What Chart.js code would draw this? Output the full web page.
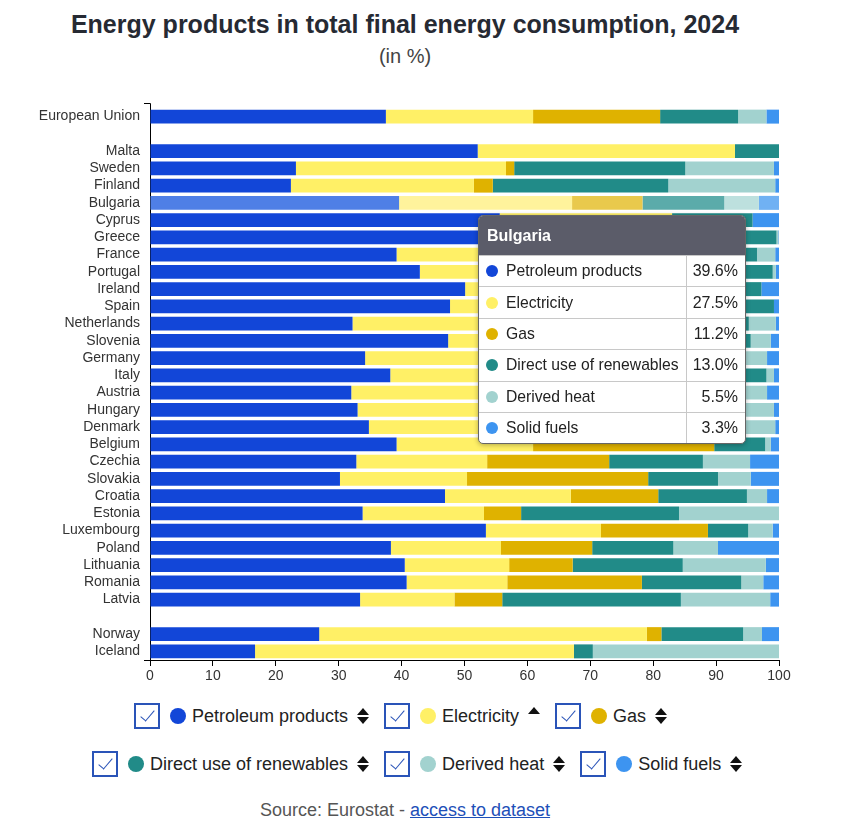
<!DOCTYPE html>
<html>
<head>
<meta charset="utf-8">
<title>Energy products in total final energy consumption, 2024</title>
<script src="https://cdn.jsdelivr.net/npm/chart.js@4.4.1/dist/chart.umd.min.js"></script>
<style>
  body { margin: 0; width: 841px; height: 836px; background: #fff; position: relative; overflow: hidden;
         font-family: Arial, "Liberation Sans", sans-serif; }
  .title { position: absolute; left: 0; top: 10px; width: 810px; text-align: center;
           font-size: 25px; font-weight: bold; color: #262a33; }
  .subtitle { position: absolute; left: 0; top: 45px; width: 810px; text-align: center;
              font-size: 20px; color: #444; }
  #chartBox { position: absolute; left: 0; top: 95px; width: 841px; height: 600px; }

  .legend-row { position: absolute; display: flex; align-items: center; height: 30px; }
  .item { display: flex; align-items: center; margin-right: 15px; font-size: 18px; color: #222; white-space: nowrap; }
  .cb { width: 22px; height: 22px; border: 2px solid #2a54b8; position: relative; margin-right: 10px; background: #fff; }
  .cb::after { content: ""; position: absolute; left: 8px; top: 2px; width: 6px; height: 13px;
               border: solid #2a54b8; border-width: 0 1.5px 1.5px 0; transform: rotate(40deg); }
  .dot { width: 16px; height: 16px; border-radius: 50%; margin-right: 6px; }
  .sort { display: flex; flex-direction: column; align-items: center; margin-left: 8px; width: 13px; height: 16px; }
  .up { width: 0; height: 0; border-left: 6px solid transparent; border-right: 6px solid transparent; border-bottom: 7px solid #111; }
  .down { width: 0; height: 0; border-left: 6px solid transparent; border-right: 6px solid transparent; border-top: 7px solid #111; margin-top: 2px; }
  .sort.asc { justify-content: flex-start; margin-top: -3px; }

  .source { position: absolute; left: 0; top: 800px; width: 810px; text-align: center; font-size: 18px; color: #555; }
  .source a { color: #1d4fb8; }

  #tip { position: absolute; left: 478px; top: 215px; width: 266px; background: #fff; border: 1px solid #666;
         border-radius: 5px; box-shadow: 0 1px 5px rgba(0,0,0,0.3); overflow: hidden; font-size: 16px; color: #222; display: none; }
  #tip .head { background: #5b5c69; color: #fff; font-weight: bold; height: 39px; line-height: 39px; padding-left: 8px; }
  #tip table { border-collapse: collapse; width: 100%; }
  #tip td { height: 30.4px; padding: 0; border-top: 1px solid #c8c8c8; }
  #tip td.lab { padding-left: 7px; font-size: 15.7px; }
  #tip td.val { text-align: right; border-left: 1px solid #c8c8c8; padding-right: 7px; width: 51px; }
  #tip .tdot { display: inline-block; width: 12px; height: 12px; border-radius: 50%; margin-right: 8px; vertical-align: -1px; }
</style>
</head>
<body>
<div class="title">Energy products in total final energy consumption, 2024</div>
<div class="subtitle">(in %)</div>
<div id="chartBox"><canvas id="energyChart"></canvas></div>
<div id="tip"></div>
<div class="legend-row" id="legend1" style="left:134px; top:701px;"></div>
<div class="legend-row" id="legend2" style="left:92px; top:749px;"></div>
<div class="source">Source: Eurostat - <a href="#">access to dataset</a></div>

<script>
// Categories (blank entries are the gaps between groups)
const countries = ['European Union', '', 'Malta', 'Sweden', 'Finland', 'Bulgaria', 'Cyprus', 'Greece', 'France',
  'Portugal', 'Ireland', 'Spain', 'Netherlands', 'Slovenia', 'Germany', 'Italy', 'Austria', 'Hungary', 'Denmark',
  'Belgium', 'Czechia', 'Slovakia', 'Croatia', 'Estonia', 'Luxembourg', 'Poland', 'Lithuania', 'Romania', 'Latvia',
  '', 'Norway', 'Iceland'];

// Shares in %
const petroleum   = [37.5, null, 52.1, 23.2, 22.4, 39.6, 55.6, 52.8, 39.2, 42.9, 50.1, 47.7, 32.2, 47.4, 34.2, 38.2, 32.0, 33.0, 34.8, 39.2, 32.8, 30.2, 46.9, 33.8, 53.4, 38.3, 40.5, 40.8, 33.4, null, 26.9, 16.7];
const electricity = [23.4, null, 40.9, 33.4, 29.1, 27.5, 27.4, 27.0, 26.8, 26.3, 25.8, 25.3, 24.8, 24.4, 24.0, 23.5, 23.0, 22.5, 22.0, 21.7, 20.8, 20.2, 20.0, 19.3, 18.3, 17.5, 16.6, 16.0, 15.0, null, 52.1, 50.7];
const gas         = [20.2, null, 0, 1.3, 3.0, 11.2, 0, 6.0, 19.0, 11.0, 16.8, 18.2, 33.5, 11.0, 24.0, 28.5, 16.0, 30.0, 9.0, 28.8, 19.4, 28.8, 13.9, 5.9, 17.0, 14.5, 10.1, 21.4, 7.6, null, 2.3, 0];
const renewables  = [12.4, null, 7.0, 27.2, 27.9, 13.0, 12.8, 13.8, 11.5, 18.8, 4.5, 8.0, 4.7, 12.7, 9.5, 7.8, 18.0, 8.0, 17.0, 8.1, 14.9, 11.1, 14.1, 25.1, 6.4, 12.9, 17.5, 15.8, 28.4, null, 13.0, 3.0];
const derivedHeat = [4.5, null, 0, 14.1, 17.0, 5.5, 0, 0.3, 2.9, 0.5, 0, 0, 4.3, 3.2, 6.4, 1.2, 9.1, 5.7, 16.6, 0.9, 7.5, 5.2, 3.2, 15.9, 3.9, 7.1, 13.2, 3.5, 14.2, null, 3.0, 29.6];
const solidFuels  = [2.0, null, 0, 0.8, 0.6, 3.3, 4.2, 0.1, 0.6, 0.5, 2.8, 0.8, 0.5, 1.3, 1.9, 0.8, 1.9, 0.8, 0.6, 1.3, 4.6, 4.5, 1.9, 0, 1.0, 9.7, 2.1, 2.5, 1.4, null, 2.7, 0];

const xTicks = [0, 10, 20, 30, 40, 50, 60, 70, 80, 90, 100];

const seriesNames  = ['Petroleum products', 'Electricity', 'Gas', 'Direct use of renewables', 'Derived heat', 'Solid fuels'];
const seriesData   = [petroleum, electricity, gas, renewables, derivedHeat, solidFuels];
const seriesColors = ['#1246d8', '#fff066', '#dfb200', '#218b88', '#a2d2cf', '#3d94f0'];
const lightColors  = ['#4f7fe6', '#fff39c', '#e9c94c', '#5babaa', '#bde0de', '#70b1f3'];
const sortState    = ['both', 'asc', 'both', 'both', 'both', 'both'];

const highlighted = countries.indexOf('Bulgaria');

// y axis domain: short extension above the first band plus outer ticks
const axisEnds = {
  id: 'axisEnds',
  afterDraw(chart) {
    const { ctx, chartArea } = chart;
    const top = chartArea.top - 5;
    ctx.save();
    ctx.strokeStyle = '#000';
    ctx.lineWidth = 1;
    ctx.beginPath();
    ctx.moveTo(chartArea.left - 6, top + 0.5);
    ctx.lineTo(chartArea.left + 0.5, top + 0.5);
    ctx.lineTo(chartArea.left + 0.5, chartArea.top);
    ctx.moveTo(chartArea.left - 6, chartArea.bottom + 0.5);
    ctx.lineTo(chartArea.left, chartArea.bottom + 0.5);
    ctx.stroke();
    ctx.restore();
  }
};

function renderTip(context) {
  const tip = context.tooltip;
  const el = document.getElementById('tip');
  if (!tip.dataPoints || !tip.dataPoints.length) {
    el.style.display = 'none';
    return;
  }
  let html = '<div class="head">' + tip.title[0] + '</div><table>';
  tip.dataPoints.forEach(dp => {
    html += '<tr><td class="lab"><span class="tdot" style="background:' + seriesColors[dp.datasetIndex] + '"></span>' +
            dp.dataset.label + '</td><td class="val">' + dp.raw.toFixed(1) + '%</td></tr>';
  });
  el.innerHTML = html + '</table>';
  el.style.display = 'block';
}

const ctx = document.getElementById('energyChart').getContext('2d');
const energyChart = new Chart(ctx, {
  type: 'bar',
  data: {
    labels: countries,
    datasets: seriesNames.map((name, i) => ({
      label: name,
      data: seriesData[i],
      backgroundColor: seriesColors[i],
      hoverBackgroundColor: lightColors[i],
      borderWidth: 0,
      barPercentage: 1,
      categoryPercentage: 0.81
    }))
  },
  options: {
    indexAxis: 'y',
    responsive: true,
    maintainAspectRatio: false,
    animation: false,
    events: [],
    layout: { padding: { top: 13, right: 62, left: 0, bottom: 0 } },
    font: { family: 'Arial, "Liberation Sans", sans-serif' },
    scales: {
      x: {
        stacked: true,
        min: 0,
        max: 100,
        afterBuildTicks: (scale) => { scale.ticks = xTicks.map(v => ({ value: v })); },
        afterFit: (scale) => { scale.height = 35; },
        grid: { display: true, drawOnChartArea: false, drawTicks: true, tickLength: 6, color: '#000' },
        border: { display: true, color: '#000', width: 1 },
        ticks: { color: '#333', font: { size: 14, family: 'Arial, "Liberation Sans", sans-serif' }, padding: 2 }
      },
      y: {
        stacked: true,
        afterFit: (scale) => { scale.width = 150; },
        grid: { display: false, drawTicks: true, tickLength: 8 },
        border: { display: true, color: '#000', width: 1 },
        ticks: { color: '#333', autoSkip: false, padding: 2, font: { size: 14, family: 'Arial, "Liberation Sans", sans-serif' } }
      }
    },
    plugins: {
      legend: { display: false },
      tooltip: { enabled: false, mode: 'index', external: renderTip }
    }
  },
  plugins: [axisEnds]
});

// Hovered state for Bulgaria, with its tooltip
const active = seriesData.map((d, i) => ({ datasetIndex: i, index: highlighted }));
energyChart.setActiveElements(active);
energyChart.update();
energyChart.tooltip.setActiveElements(active, { x: 480, y: 120 });

// Legend
function legendItem(i) {
  const sort = sortState[i] === 'asc'
    ? '<span class="sort asc"><span class="up"></span></span>'
    : '<span class="sort"><span class="up"></span><span class="down"></span></span>';
  return '<span class="item"><span class="cb"></span><span class="dot" style="background:' + seriesColors[i] + '"></span>' +
         seriesNames[i] + sort + '</span>';
}
document.getElementById('legend1').innerHTML = [0, 1, 2].map(legendItem).join('');
document.getElementById('legend2').innerHTML = [3, 4, 5].map(legendItem).join('');
</script>
</body>
</html>
